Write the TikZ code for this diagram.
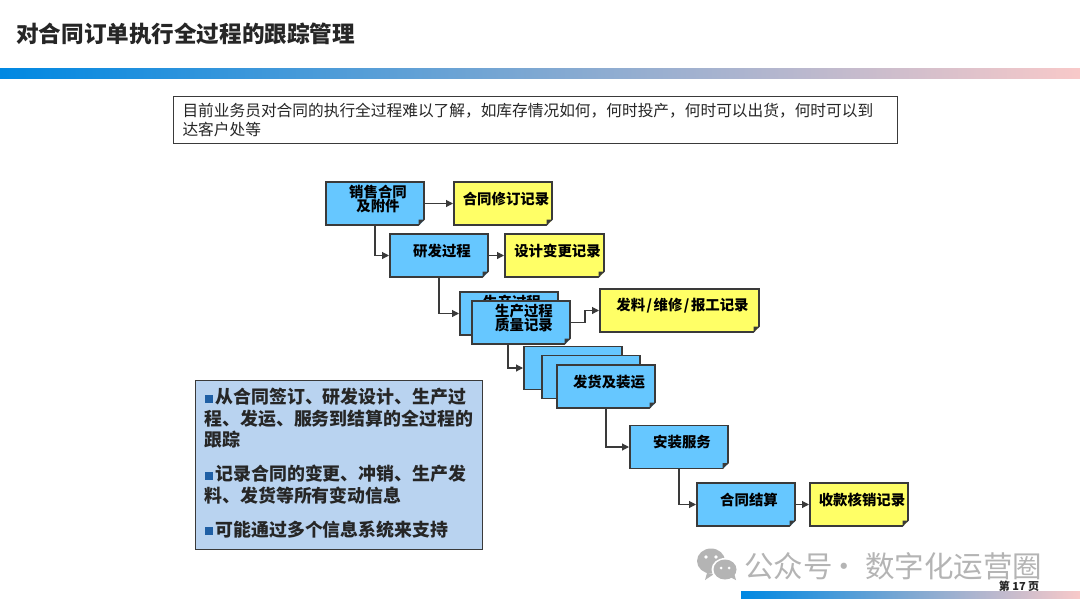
\documentclass[tikz,border=0pt]{standalone}
\usepackage{fontspec}
\setmainfont{Noto Sans CJK SC}
\usetikzlibrary{arrows.meta}
\definecolor{cardblue}{HTML}{66C7FF}
\definecolor{cardyellow}{HTML}{FFFF66}
\definecolor{edgedark}{HTML}{3A3A3A}
\definecolor{panelblue}{HTML}{B9D3F0}
\definecolor{bulletblue}{HTML}{1F5FA5}
\definecolor{barleft}{HTML}{0088E2}
\definecolor{barmid}{HTML}{7FA8D2}
\definecolor{barright}{HTML}{F8C9C9}
\definecolor{wm}{HTML}{B4B4B4}
\newcommand{\bulletsq}{\textcolor{bulletblue}{\rule[1pt]{8pt}{8pt}}\hspace{3pt}}
\tikzset{
  cardbase/.style={draw=edgedark,line width=1.1pt,inner sep=0pt,outer sep=0pt,minimum height=43pt,
    text width=#1,font=\fontsize{14.4}{14.5}\selectfont\bfseries,
    execute at begin node={\leftskip=6pt plus 1fil\rightskip=0pt plus 1fil\parfillskip=0pt\parindent=0pt},
    execute at end node={\par\nointerlineskip\kern9pt}},
  bluecard/.style={cardbase=#1,fill=cardblue},
  yellowcard/.style={cardbase=#1,fill=cardyellow},
  link/.style={draw=edgedark,line width=1.1pt,shorten >=1pt,-{Triangle[length=7pt,width=7pt]}},
}
\begin{document}
\begin{tikzpicture}[x=1pt,y=-1pt]
\useasboundingbox[fill=white] (0,0) rectangle (1080,608);
\fill[left color=barleft,right color=barright,middle color=barmid] (0,68) rectangle (1080,78);
\fill[left color=barleft,right color=barright,middle color=barmid] (741,591) rectangle (1080,598);
\node[anchor=west,inner sep=0pt,font=\fontsize{22.6}{26}\selectfont\bfseries,text=black!85] (title) at (16,34) {对合同订单执行全过程的跟踪管理};
\node[draw=edgedark,line width=1pt,anchor=north west,inner sep=0pt,minimum width=724pt,minimum height=47pt,text width=706pt,
  font=\fontsize{15.7}{19}\selectfont,text=black!85,
  execute at begin node={\parindent=0pt}] (note) at (173,96) {目前业务员对合同的执行全过程难以了解，如库存情况如何，何时投产，何时可以出货，何时可以到\\达客户处等};

% cards
\node[bluecard=98pt] (sales) at (375,203.5) {销售合同\\及附件};
\node[yellowcard=98pt] (srec) at (503,203.5) {合同修订记录};
\node[bluecard=98pt] (rd) at (439,255.5) {研发过程};
\node[yellowcard=99pt] (rrec) at (554.5,255.5) {设计变更记录};
\node[bluecard=98pt] (pb) at (509,313.5) {生产过程\\\mbox{}};
\node[bluecard=98pt] (pf) at (521,322.5) {生产过程\\质量记录};
\node[yellowcard=159pt] (prec) at (679.5,310.5) {发料\kern1.5pt/\kern1.5pt维修\kern1.5pt/\kern1.5pt报工记录};
\node[bluecard=98pt] (s1) at (573,368) {};
\node[bluecard=98pt] (s2) at (591,377) {};
\node[bluecard=98pt] (s3) at (606,386.5) {发货及装运};
\node[bluecard=98pt] (inst) at (679,447) {安装服务};
\node[bluecard=98pt] (sett) at (746,504.5) {合同结算};
\node[yellowcard=98pt] (srec2) at (859,504.5) {收款核销记录};

% folded corners of the cards that are not covered
\foreach \c in {sales,srec,rd,rrec,pf,prec,s3,inst,sett,srec2}{
  \fill[white] (\c.south east) ++(1.2,1.2) -- ++(-6.7,0) -- ++(6.7,-6.7) -- cycle;
  \fill[edgedark] (\c.south east) ++(-5.5,0.55) -- ++(0,-6) -- ++(6,0) -- cycle;
}

% connectors
\draw[link] (sales.east) -- (srec.west);
\draw[link] (sales.south) |- (rd.west);
\draw[link] (rd.east) -- (rrec.west);
\draw[link] (rd.south) |- (pb.west);
\draw[link] (pf.east) -- ++(15,0) |- (prec.west);
\draw[link] ([xshift=-13pt]pf.south) |- (s1.west);
\draw[link] (s3.south) |- (inst.west);
\draw[link] (inst.south) |- (sett.west);
\draw[link] (sett.east) -- (srec2.west);

% side panel
\node[draw=edgedark,line width=1pt,fill=panelblue,anchor=north west,inner xsep=9pt,inner ysep=0pt,text width=269pt,minimum height=169pt,
  font=\fontsize{17.9}{21.5}\selectfont\bfseries,text=black!85,
  execute at begin node={\parindent=0pt\parskip=12.5pt},
  execute at end node={\par\nointerlineskip\kern4pt}] (panel) at (195,380)
  {\bulletsq 从合同签订、研发设计、生产过\\程、发运、服务到结算的全过程的\\跟踪\par
   \bulletsq 记录合同的变更、冲销、生产发\\料、发货等所有变动信息\par
   \bulletsq 可能通过多个信息系统来支持};

% watermark
\begin{scope}[xshift=1pt]
\fill[wm] (706,573) -- (704,580) -- (713,574) -- cycle;
\fill[wm] (710,561) ellipse [x radius=14,y radius=12.5];
\fill[white] (724,569.5) ellipse [x radius=13.5,y radius=11.5];
\fill[wm] (729,577) -- (735,580) -- (733,573) -- cycle;
\fill[wm] (724,569.5) ellipse [x radius=11.5,y radius=10];
\fill[white] (705,557) circle (1.8) (715,557) circle (1.8) (720,568) circle (1.5) (728,568) circle (1.5);
\end{scope}
\node[anchor=west,inner sep=0pt,font=\fontsize{29.5}{32}\selectfont,text=wm] (wmtext) at (744,566.5) {公众号\kern-3pt·\kern6pt 数字化运营圈};
\node[inner sep=0pt,font=\fontsize{11}{14}\selectfont\bfseries,text=black!85] (page) at (1019,586) {第 17 页};
\end{tikzpicture}
\end{document}
